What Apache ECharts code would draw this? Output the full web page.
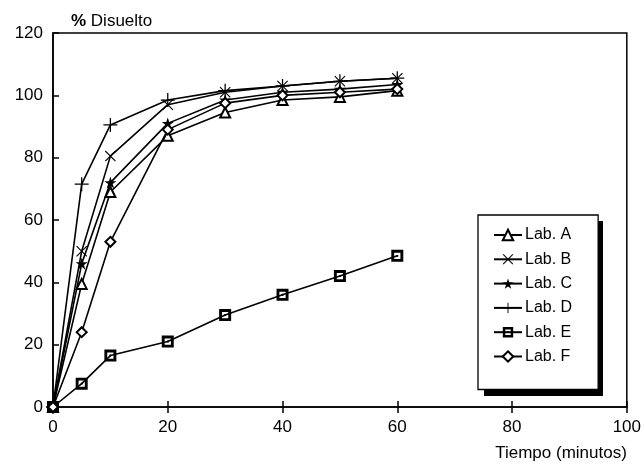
<!DOCTYPE html>
<html lang="es">
<head>
    <meta charset="UTF-8">
    <title>Disolucion</title>
    <script src="https://cdn.jsdelivr.net/npm/echarts@6/dist/echarts.min.js"></script>
</head>
<body style="margin:0;background:#fff;">
<div id="myChart" style="width: 644px;height: 467px;"></div>
<script>
    // tiempos (minutos) y % disuelto por laboratorio
    var tiempos = [0, 5, 10, 20, 30, 40, 50, 60];
    var labA = [0, 39.5, 69, 87, 94.5, 98.5, 99.5, 101.5];
    var labB = [0, 50, 80.5, 97, 101, 103, 104.5, 105.5];
    var labC = [0, 46, 72, 91, 98.5, 101, 102, 103.5];
    var labD = [0, 71.5, 90.5, 98.5, 101.5, 103, 104.5, 105.5];
    var labE = [0, 7.5, 16.5, 21, 29.5, 36, 42, 48.5];
    var labF = [0, 24, 53, 89, 97.5, 100, 101, 102];
    var nombres = ['Lab. A', 'Lab. B', 'Lab. C', 'Lab. D', 'Lab. E', 'Lab. F'];
    var xTicks = [0, 20, 40, 60, 80, 100];
    var yTicks = [0, 20, 40, 60, 80, 100, 120];

    var fuente = '"Liberation Sans", Arial, sans-serif';

    var simbolos = {
        A: 'emptyTriangle',
        B: 'path://M0,0.7L0.7,0L5,4.3L9.3,0L10,0.7L5.7,5L10,9.3L9.3,10L5,5.7L0.7,10L0,9.3L4.3,5Z',
        C: 'path://M5,0L6.2,3.6L10,3.6L6.9,5.9L8.1,9.5L5,7.3L1.9,9.5L3.1,5.9L0,3.6L3.8,3.6Z',
        D: 'path://M4.55,0H5.45V4.55H10V5.45H5.45V10H4.55V5.45H0V4.55H4.55Z',
        E: 'path://M0,0H10V10H0Z M2.4,2.4V7.6H7.6V2.4Z M4.2,4.2H5.8V5.8H4.2Z',
        F: 'emptyDiamond'
    };
    var tamanos = {A: 10, B: 11, C: 12, D: 14, E: 12, F: 10};

    function pares(vals) {
        var out = [];
        for (var i = 0; i < tiempos.length; i++) out.push([tiempos[i], vals[i]]);
        return out;
    }

    var datos = [labA, labB, labC, labD, labE, labF];
    var letras = ['A', 'B', 'C', 'D', 'E', 'F'];
    var seriesData = [];
    for (var i = 0; i < datos.length; i++) {
        var hueco = letras[i] === 'A' || letras[i] === 'F';
        seriesData.push({
            name: nombres[i],
            type: 'line',
            data: pares(datos[i]),
            symbol: simbolos[letras[i]],
            symbolSize: tamanos[letras[i]],
            showAllSymbol: true,
            lineStyle: {color: '#000', width: 1.6},
            itemStyle: {color: '#000', borderColor: '#000', borderWidth: hueco ? 1.4 : 0},
            emphasis: {disabled: true},
            z: 3
        });
    }

    var myChart = echarts.init(document.getElementById('myChart'));
    var option = {
        animation: false,
        backgroundColor: '#fff',
        textStyle: {fontFamily: fuente, color: '#000'},
        title: {
            text: '{b|%} Disuelto',
            left: 66,
            top: 8,
            textStyle: {
                fontFamily: fuente,
                fontSize: 17,
                fontWeight: 'normal',
                color: '#000',
                rich: {b: {fontFamily: fuente, fontSize: 17, fontWeight: 'bold', color: '#000'}}
            }
        },
        grid: {
            left: 53,
            top: 33,
            right: 7,
            bottom: 60,
            show: true,
            borderColor: '#000',
            borderWidth: 1.5,
            backgroundColor: 'transparent'
        },
        // sombra negra del recuadro de la leyenda
        graphic: [{
            type: 'rect',
            left: 484,
            top: 221,
            shape: {width: 119, height: 175},
            style: {fill: '#000'},
            z: 5
        }],
        legend: {
            orient: 'vertical',
            left: 478,
            top: 215,
            z: 10,
            data: nombres,
            itemWidth: 28,
            itemHeight: 13,
            itemGap: 8.3,
            padding: [12, 26, 25, 15],
            backgroundColor: '#fff',
            borderColor: '#000',
            borderWidth: 1.3,
            selectedMode: false,
            textStyle: {fontFamily: fuente, fontSize: 16, color: '#000', padding: [0, 0, 0, -2]}
        },
        xAxis: [{
            type: 'value',
            min: 0,
            max: 100,
            interval: 20,
            name: 'Tiempo (minutos)',
            nameLocation: 'end',
            nameGap: 0,
            nameTextStyle: {
                fontFamily: fuente, fontSize: 17, color: '#000',
                align: 'right', verticalAlign: 'top', padding: [38, 0, 0, 0]
            },
            axisLine: {lineStyle: {color: '#000', width: 1.6}},
            axisTick: {inside: false, length: 6, lineStyle: {color: '#000', width: 1.5}},
            axisLabel: {
                fontFamily: fuente, fontSize: 17, color: '#000', margin: 12,
                formatter: function (v) { return xTicks.indexOf(v) >= 0 ? String(v) : ''; }
            },
            splitLine: {show: false}
        }, {
            type: 'value',
            position: 'bottom',
            min: 0,
            max: 100,
            interval: 20,
            axisLine: {show: false},
            axisTick: {inside: true, length: 6, lineStyle: {color: '#000', width: 1.5}},
            axisLabel: {show: false},
            splitLine: {show: false}
        }],
        yAxis: {
            type: 'value',
            min: 0,
            max: 120,
            interval: 20,
            axisLine: {show: true, lineStyle: {color: '#000', width: 1.6}},
            axisTick: {show: true, inside: true, length: 6, lineStyle: {color: '#000', width: 1.5}},
            axisLabel: {
                fontFamily: fuente, fontSize: 17, color: '#000', margin: 10,
                formatter: function (v) { return yTicks.indexOf(v) >= 0 ? String(v) : ''; }
            },
            splitLine: {show: false}
        },
        series: seriesData
    };
    myChart.setOption(option);
</script>
</body>
</html>
